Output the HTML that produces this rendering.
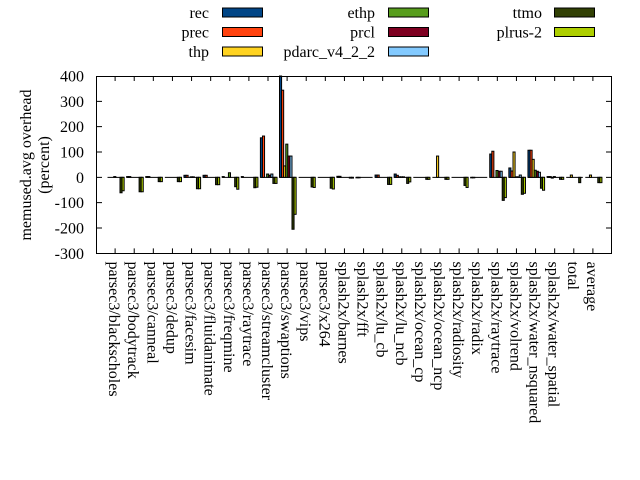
<!DOCTYPE html>
<html><head><meta charset="utf-8"><style>
html,body{margin:0;padding:0;background:#fff;}
svg{display:block;}
text{font-family:"Liberation Serif",serif;font-size:16px;fill:#000;}
</style></head><body>
<svg width="640" height="480" viewBox="0 0 640 480" xmlns="http://www.w3.org/2000/svg">
<rect x="0" y="0" width="640" height="480" fill="#fff"/>

<!-- legend -->
<g>
<text x="209" y="18" text-anchor="end">rec</text>
<rect x="222.5" y="8" width="40" height="9" fill="#004586" stroke="#000"/>
<text x="209" y="37.5" text-anchor="end">prec</text>
<rect x="222.5" y="27.5" width="40" height="9" fill="#ff420e" stroke="#000"/>
<text x="209" y="57" text-anchor="end">thp</text>
<rect x="222.5" y="47" width="40" height="9" fill="#ffd320" stroke="#000"/>

<text x="375" y="18" text-anchor="end">ethp</text>
<rect x="388.5" y="8" width="40" height="9" fill="#579d1c" stroke="#000"/>
<text x="375" y="37.5" text-anchor="end">prcl</text>
<rect x="388.5" y="27.5" width="40" height="9" fill="#7e0021" stroke="#000"/>
<text x="375" y="57" text-anchor="end">pdarc_v4_2_2</text>
<rect x="388.5" y="47" width="40" height="9" fill="#83caff" stroke="#000"/>

<text x="542" y="18" text-anchor="end">ttmo</text>
<rect x="554.5" y="8" width="40" height="9" fill="#314004" stroke="#000"/>
<text x="542" y="37.5" text-anchor="end">plrus-2</text>
<rect x="554.5" y="27.5" width="40" height="9" fill="#aecf00" stroke="#000"/>
</g>

<!-- y axis label -->
<text transform="translate(31,165) rotate(-90)" text-anchor="middle">memused.avg overhead</text>
<text transform="translate(49,165) rotate(-90)" text-anchor="middle">(percent)</text>

<!-- y tick labels -->
<g text-anchor="end">
<text x="84" y="81.5">400</text>
<text x="84" y="106.8">300</text>
<text x="84" y="132.2">200</text>
<text x="84" y="157.5">100</text>
<text x="84" y="182.8">0</text>
<text x="84" y="208.2">-100</text>
<text x="84" y="233.5">-200</text>
<text x="84" y="258.8">-300</text>
</g>

<!-- ticks -->
<g stroke="#000" stroke-width="1">
<path d="M96 101.33h6M96 126.67h6M96 152h6M96 177.33h6M96 202.67h6M96 228h6
M612 101.33h-6M612 126.67h-6M612 152h-6M612 177.33h-6M612 202.67h-6M612 228h-6"/>
<path d="M115.11 253.33v-5M134.22 253.33v-5M153.33 253.33v-5M172.44 253.33v-5M191.56 253.33v-5M210.67 253.33v-5M229.78 253.33v-5M248.89 253.33v-5M268 253.33v-5M287.11 253.33v-5M306.22 253.33v-5M325.33 253.33v-5M344.44 253.33v-5M363.56 253.33v-5M382.67 253.33v-5M401.78 253.33v-5M420.89 253.33v-5M440 253.33v-5M459.11 253.33v-5M478.22 253.33v-5M497.33 253.33v-5M516.44 253.33v-5M535.56 253.33v-5M554.67 253.33v-5M573.78 253.33v-5M592.89 253.33v-5"/>
<path d="M115.11 76v5M134.22 76v5M153.33 76v5M172.44 76v5M191.56 76v5M210.67 76v5M229.78 76v5M248.89 76v5M268 76v5M287.11 76v5M306.22 76v5M325.33 76v5M344.44 76v5M363.56 76v5M382.67 76v5M401.78 76v5M420.89 76v5M440 76v5M459.11 76v5M478.22 76v5M497.33 76v5M516.44 76v5M535.56 76v5M554.67 76v5M573.78 76v5M592.89 76v5"/>
</g>

<!-- zero lines per cluster -->
<g stroke="#000" stroke-width="1">
<path d="M107.51 177.33h16.64M126.62 177.33h16.64M145.73 177.33h16.64M164.84 177.33h16.64M183.96 177.33h16.64M203.07 177.33h16.64M222.18 177.33h16.64M241.29 177.33h16.64M260.4 177.33h16.64M279.51 177.33h16.64M298.62 177.33h16.64M317.73 177.33h16.64M336.84 177.33h16.64M355.96 177.33h16.64M375.07 177.33h16.64M394.18 177.33h16.64M413.29 177.33h16.64M432.4 177.33h16.64M451.51 177.33h16.64M470.62 177.33h16.64M489.73 177.33h16.64M508.84 177.33h16.64M527.96 177.33h16.64M547.07 177.33h16.64M566.18 177.33h16.64M585.29 177.33h16.64"/>
</g>

<!-- bars -->
<g stroke="#000" stroke-width="1">
<!-- 1 blackscholes -->
<rect x="113.75" y="176.57" width="2.08" height="0.76" fill="#579d1c"/>
<rect x="119.99" y="177.33" width="2.08" height="15.45" fill="#314004"/>
<rect x="122.07" y="177.33" width="2.08" height="13.43" fill="#aecf00"/>
<!-- 2 bodytrack -->
<rect x="126.62" y="176.57" width="2.08" height="0.76" fill="#004586"/>
<rect x="128.7" y="176.57" width="2.08" height="0.76" fill="#ff420e"/>
<rect x="139.1" y="177.33" width="2.08" height="14.44" fill="#314004"/>
<rect x="141.18" y="177.33" width="2.08" height="14.44" fill="#aecf00"/>
<!-- 3 canneal -->
<rect x="145.73" y="176.57" width="2.08" height="0.76" fill="#004586"/>
<rect x="147.81" y="176.57" width="2.08" height="0.76" fill="#ff420e"/>
<rect x="158.21" y="177.33" width="2.08" height="4.31" fill="#314004"/>
<rect x="160.29" y="177.33" width="2.08" height="4.31" fill="#aecf00"/>
<!-- 4 dedup -->
<rect x="177.32" y="177.33" width="2.08" height="4.31" fill="#314004"/>
<rect x="179.4" y="177.33" width="2.08" height="4.31" fill="#aecf00"/>
<!-- 5 facesim -->
<rect x="183.96" y="175.3" width="2.08" height="2.03" fill="#004586"/>
<rect x="186.04" y="175.3" width="2.08" height="2.03" fill="#ff420e"/>
<rect x="190.2" y="176.82" width="2.08" height="0.51" fill="#579d1c"/>
<rect x="192.28" y="176.82" width="2.08" height="0.51" fill="#7e0021"/>
<rect x="196.44" y="177.33" width="2.08" height="11.4" fill="#314004"/>
<rect x="198.52" y="177.33" width="2.08" height="11.4" fill="#aecf00"/>
<!-- 6 fluidanimate -->
<rect x="203.07" y="175.3" width="2.08" height="2.03" fill="#004586"/>
<rect x="205.15" y="175.3" width="2.08" height="2.03" fill="#ff420e"/>
<rect x="215.55" y="177.33" width="2.08" height="7.35" fill="#314004"/>
<rect x="217.63" y="177.33" width="2.08" height="7.35" fill="#aecf00"/>
<!-- 7 freqmine -->
<rect x="222.18" y="176.57" width="2.08" height="0.76" fill="#004586"/>
<rect x="228.42" y="172.77" width="2.08" height="4.56" fill="#579d1c"/>
<rect x="234.66" y="177.33" width="2.08" height="9.37" fill="#314004"/>
<rect x="236.74" y="177.33" width="2.08" height="11.9" fill="#aecf00"/>
<!-- 8 raytrace -->
<rect x="241.29" y="176.57" width="2.08" height="0.76" fill="#004586"/>
<rect x="253.77" y="177.33" width="2.08" height="10.39" fill="#314004"/>
<rect x="255.85" y="177.33" width="2.08" height="9.88" fill="#aecf00"/>
<!-- 9 streamcluster -->
<rect x="260.4" y="137.81" width="2.08" height="39.52" fill="#004586"/>
<rect x="262.48" y="136.04" width="2.08" height="41.29" fill="#ff420e"/>
<rect x="266.64" y="174.04" width="2.08" height="3.29" fill="#579d1c"/>
<rect x="268.72" y="175.3" width="2.08" height="2.03" fill="#7e0021"/>
<rect x="270.8" y="174.04" width="2.08" height="3.29" fill="#83caff"/>
<rect x="272.88" y="177.33" width="2.08" height="6.08" fill="#314004"/>
<rect x="274.96" y="177.33" width="2.08" height="6.08" fill="#aecf00"/>
<!-- 10 swaptions -->
<rect x="279.51" y="76" width="2.08" height="101.33" fill="#004586"/>
<rect x="281.59" y="90.18" width="2.08" height="87.15" fill="#ff420e"/>
<rect x="283.67" y="165.93" width="2.08" height="11.4" fill="#ffd320"/>
<rect x="285.75" y="144.14" width="2.08" height="33.19" fill="#579d1c"/>
<rect x="287.83" y="156.05" width="2.08" height="21.28" fill="#7e0021"/>
<rect x="289.91" y="156.05" width="2.08" height="21.28" fill="#83caff"/>
<rect x="291.99" y="177.33" width="2.08" height="51.93" fill="#314004"/>
<rect x="294.07" y="177.33" width="2.08" height="36.99" fill="#aecf00"/>
<!-- 11 vips -->
<rect x="311.1" y="177.33" width="2.08" height="9.63" fill="#314004"/>
<rect x="313.18" y="177.33" width="2.08" height="10.13" fill="#aecf00"/>
<!-- 12 x264 -->
<rect x="330.21" y="177.33" width="2.08" height="10.89" fill="#314004"/>
<rect x="332.29" y="177.33" width="2.08" height="11.65" fill="#aecf00"/>
<!-- 13 barnes -->
<rect x="336.84" y="176.32" width="2.08" height="1.01" fill="#004586"/>
<rect x="338.92" y="176.32" width="2.08" height="1.01" fill="#ff420e"/>
<rect x="349.32" y="177.33" width="2.08" height="0.76" fill="#314004"/>
<rect x="351.4" y="177.33" width="2.08" height="0.76" fill="#aecf00"/>
<!-- 14 fft -->
<rect x="355.96" y="177.33" width="2.08" height="0.51" fill="#004586"/>
<rect x="358.04" y="177.33" width="2.08" height="0.51" fill="#ff420e"/>
<!-- 15 lu_cb -->
<rect x="375.07" y="175.05" width="2.08" height="2.28" fill="#004586"/>
<rect x="377.15" y="175.05" width="2.08" height="2.28" fill="#ff420e"/>
<rect x="387.55" y="177.33" width="2.08" height="7.09" fill="#314004"/>
<rect x="389.63" y="177.33" width="2.08" height="7.09" fill="#aecf00"/>
<!-- 16 lu_ncb -->
<rect x="394.18" y="174.04" width="2.08" height="3.29" fill="#004586"/>
<rect x="396.26" y="175.3" width="2.08" height="2.03" fill="#ff420e"/>
<rect x="398.34" y="176.82" width="2.08" height="0.51" fill="#ffd320"/>
<rect x="400.42" y="176.82" width="2.08" height="0.51" fill="#579d1c"/>
<rect x="402.5" y="176.82" width="2.08" height="0.51" fill="#7e0021"/>
<rect x="406.66" y="177.33" width="2.08" height="6.08" fill="#314004"/>
<rect x="408.74" y="177.33" width="2.08" height="4.56" fill="#aecf00"/>
<!-- 17 ocean_cp -->
<rect x="425.77" y="177.33" width="2.08" height="2.03" fill="#314004"/>
<rect x="427.85" y="177.33" width="2.08" height="2.03" fill="#aecf00"/>
<!-- 18 ocean_ncp -->
<rect x="436.56" y="156.05" width="2.08" height="21.28" fill="#ffd320"/>
<rect x="444.88" y="177.33" width="2.08" height="2.03" fill="#314004"/>
<rect x="446.96" y="177.33" width="2.08" height="2.03" fill="#aecf00"/>
<!-- 19 radiosity -->
<rect x="463.99" y="177.33" width="2.08" height="8.11" fill="#314004"/>
<rect x="466.07" y="177.33" width="2.08" height="10.13" fill="#aecf00"/>
<!-- 20 radix -->
<rect x="470.62" y="177.33" width="2.08" height="0.51" fill="#004586"/>
<rect x="472.7" y="177.33" width="2.08" height="0.51" fill="#ff420e"/>
<!-- 21 raytrace -->
<rect x="489.73" y="154.02" width="2.08" height="23.31" fill="#004586"/>
<rect x="491.81" y="151.24" width="2.08" height="26.09" fill="#ff420e"/>
<rect x="495.97" y="170.49" width="2.08" height="6.84" fill="#579d1c"/>
<rect x="498.05" y="171.25" width="2.08" height="6.08" fill="#7e0021"/>
<rect x="500.13" y="171.25" width="2.08" height="6.08" fill="#83caff"/>
<rect x="502.21" y="177.33" width="2.08" height="23.05" fill="#314004"/>
<rect x="504.29" y="177.33" width="2.08" height="20.27" fill="#aecf00"/>
<!-- 22 volrend -->
<rect x="508.84" y="167.96" width="2.08" height="9.37" fill="#004586"/>
<rect x="510.92" y="171" width="2.08" height="6.33" fill="#ff420e"/>
<rect x="513" y="152" width="2.08" height="25.33" fill="#ffd320"/>
<rect x="515.08" y="176.82" width="2.08" height="0.51" fill="#579d1c"/>
<rect x="517.16" y="176.82" width="2.08" height="0.51" fill="#7e0021"/>
<rect x="519.24" y="175.05" width="2.08" height="2.28" fill="#83caff"/>
<rect x="521.32" y="177.33" width="2.08" height="16.97" fill="#314004"/>
<rect x="523.4" y="177.33" width="2.08" height="15.96" fill="#aecf00"/>
<!-- 23 water_nsquared -->
<rect x="527.96" y="150.23" width="2.08" height="27.1" fill="#004586"/>
<rect x="530.04" y="150.23" width="2.08" height="27.1" fill="#ff420e"/>
<rect x="532.12" y="159.34" width="2.08" height="17.99" fill="#ffd320"/>
<rect x="534.2" y="170.24" width="2.08" height="7.09" fill="#579d1c"/>
<rect x="536.28" y="171.25" width="2.08" height="6.08" fill="#7e0021"/>
<rect x="538.36" y="172.26" width="2.08" height="5.07" fill="#83caff"/>
<rect x="540.44" y="177.33" width="2.08" height="10.89" fill="#314004"/>
<rect x="542.52" y="177.33" width="2.08" height="12.92" fill="#aecf00"/>
<!-- 24 water_spatial -->
<rect x="547.07" y="176.57" width="2.08" height="0.76" fill="#004586"/>
<rect x="549.15" y="176.57" width="2.08" height="0.76" fill="#ff420e"/>
<rect x="551.23" y="177.33" width="2.08" height="0.76" fill="#ffd320"/>
<rect x="553.31" y="176.57" width="2.08" height="0.76" fill="#579d1c"/>
<rect x="559.55" y="177.33" width="2.08" height="2.03" fill="#314004"/>
<rect x="561.63" y="177.33" width="2.08" height="2.03" fill="#aecf00"/>
<!-- 25 total -->
<rect x="570.34" y="175.05" width="2.08" height="2.28" fill="#ffd320"/>
<rect x="578.66" y="177.33" width="2.08" height="5.32" fill="#314004"/>
<!-- 26 average -->
<rect x="589.45" y="175.05" width="2.08" height="2.28" fill="#ffd320"/>
<rect x="597.77" y="177.33" width="2.08" height="5.32" fill="#314004"/>
<rect x="599.85" y="177.33" width="2.08" height="5.32" fill="#aecf00"/>
</g>

<!-- frame -->
<rect x="96.5" y="76.5" width="515" height="177" fill="none" stroke="#000" stroke-width="1"/>

<!-- x labels -->
<g>
<text transform="translate(109.1,261.5) rotate(90)">parsec3/blackscholes</text>
<text transform="translate(128.2,261.5) rotate(90)">parsec3/bodytrack</text>
<text transform="translate(147.3,261.5) rotate(90)">parsec3/canneal</text>
<text transform="translate(166.4,261.5) rotate(90)">parsec3/dedup</text>
<text transform="translate(185.6,261.5) rotate(90)">parsec3/facesim</text>
<text transform="translate(204.7,261.5) rotate(90)">parsec3/fluidanimate</text>
<text transform="translate(223.8,261.5) rotate(90)">parsec3/freqmine</text>
<text transform="translate(242.9,261.5) rotate(90)">parsec3/raytrace</text>
<text transform="translate(262,261.5) rotate(90)">parsec3/streamcluster</text>
<text transform="translate(281.1,261.5) rotate(90)">parsec3/swaptions</text>
<text transform="translate(300.2,261.5) rotate(90)">parsec3/vips</text>
<text transform="translate(319.3,261.5) rotate(90)">parsec3/x264</text>
<text transform="translate(338.4,261.5) rotate(90)">splash2x/barnes</text>
<text transform="translate(357.6,261.5) rotate(90)">splash2x/fft</text>
<text transform="translate(376.7,261.5) rotate(90)">splash2x/lu_cb</text>
<text transform="translate(395.8,261.5) rotate(90)">splash2x/lu_ncb</text>
<text transform="translate(414.9,261.5) rotate(90)">splash2x/ocean_cp</text>
<text transform="translate(434,261.5) rotate(90)">splash2x/ocean_ncp</text>
<text transform="translate(453.1,261.5) rotate(90)">splash2x/radiosity</text>
<text transform="translate(472.2,261.5) rotate(90)">splash2x/radix</text>
<text transform="translate(491.3,261.5) rotate(90)">splash2x/raytrace</text>
<text transform="translate(510.4,261.5) rotate(90)">splash2x/volrend</text>
<text transform="translate(529.6,261.5) rotate(90)">splash2x/water_nsquared</text>
<text transform="translate(548.7,261.5) rotate(90)">splash2x/water_spatial</text>
<text transform="translate(567.8,261.5) rotate(90)">total</text>
<text transform="translate(586.9,261.5) rotate(90)">average</text>
</g>
</svg>
</body></html>
